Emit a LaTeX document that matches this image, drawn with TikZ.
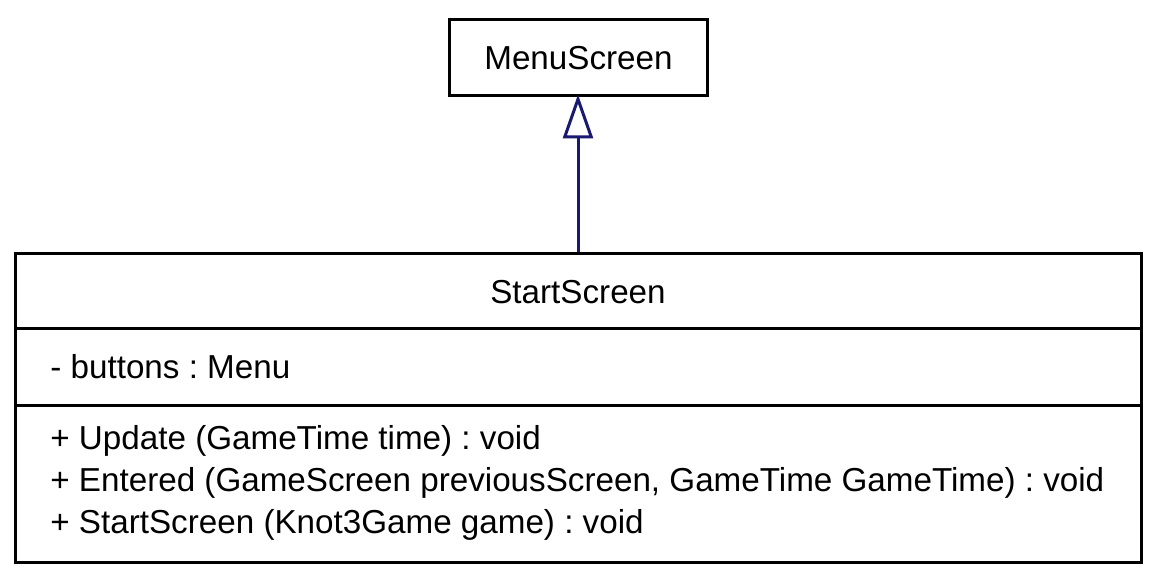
\documentclass[tikz,border=0pt]{standalone}
\usepackage{fontspec}
\setmainfont{Liberation Sans}
\usetikzlibrary{arrows.meta}
\definecolor{edgeblue}{HTML}{191970}
\frenchspacing
\begin{document}
\begin{tikzpicture}[x=0.5pt,y=-0.5pt,
  classbox/.style={draw=black, line width=1.5pt, fill=white, inner sep=0pt},
  lbl/.style={font=\fontsize{16.6pt}{21pt}\selectfont, inner sep=0pt},
  gen/.style={draw=edgeblue, line width=1.5pt, shorten >=-1.5pt, -{Triangle[open, length=22pt, width=15pt, line width=1.5pt]}}]
\useasboundingbox (0,0) rectangle (1158,583);
\node[classbox, minimum width=129pt, minimum height=38pt] (menu) at (578.5,58) {};
\node[lbl] (menut) at (menu.center) {MenuScreen};
\node[classbox, minimum width=563pt, minimum height=154pt] (start) at (578,408) {};
\coordinate (d1l) at (15,328); \coordinate (d1r) at (1141,328);
\coordinate (d2l) at (15,405); \coordinate (d2r) at (1141,405);
\draw[line width=1.5pt] (d1l) -- (d1r);
\draw[line width=1.5pt] (d2l) -- (d2r);
\node[lbl] (startt) at (578,292) {StartScreen};
\node[lbl, anchor=west] (attr) at (50,367) {- buttons : Menu};
\node[lbl, anchor=west] (m1) at (50,441) {+ Update (GameTime time) : void};
\node[lbl, anchor=west] (m2) at (50,483) {+ Entered (GameScreen previousScreen, GameTime GameTime) : void};
\node[lbl, anchor=west] (m3) at (50,525) {+ StartScreen (Knot3Game game) : void};
\draw[gen] (start.north) -- (start.north |- menu.south);
\end{tikzpicture}
\end{document}
